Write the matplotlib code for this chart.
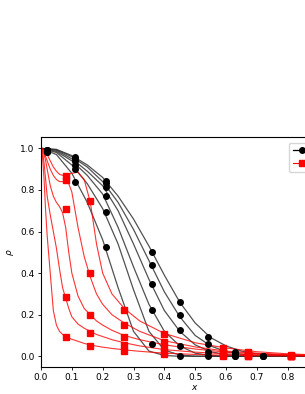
import numpy as np
import matplotlib
matplotlib.use("Agg")
import matplotlib.pyplot as plt

nan = np.nan

# ---- model curves ----
xb = [0, 0.05, 0.1, 0.15, 0.2, 0.25, 0.3, 0.35, 0.4, 0.45, 0.5, 0.55, 0.6, 0.65, 0.7, 0.8, 0.9, 1.0]
black_curves = [
    [1.0, 0.995, 0.965, 0.92, 0.86, 0.77, 0.66, 0.53, 0.39, 0.26, 0.16, 0.09, 0.05, 0.025, 0.012, 0.003, 0.001, 0.0],
    [1.0, 0.993, 0.96, 0.91, 0.84, 0.74, 0.61, 0.46, 0.31, 0.19, 0.10, 0.05, 0.022, 0.01, 0.004, 0.001, 0.0, 0.0],
    [1.0, 0.99, 0.95, 0.89, 0.82, 0.70, 0.54, 0.37, 0.22, 0.12, 0.055, 0.022, 0.008, 0.003, 0.001, 0.0, 0.0, 0.0],
    [1.0, 0.985, 0.94, 0.87, 0.78, 0.62, 0.43, 0.25, 0.12, 0.05, 0.015, 0.004, 0.001, 0.0, 0.0, 0.0, 0.0, 0.0],
    [1.0, 0.98, 0.92, 0.83, 0.71, 0.54, 0.32, 0.12, 0.03, 0.006, 0.001, 0.0, 0.0, 0.0, 0.0, 0.0, 0.0, 0.0],
    [1.0, 0.97, 0.88, 0.74, 0.56, 0.33, 0.12, 0.025, 0.004, 0.0, 0.0, 0.0, 0.0, 0.0, 0.0, 0.0, 0.0, 0.0],
]

xr = [0, 0.005, 0.01, 0.015, 0.02, 0.03, 0.04, 0.05, 0.06, 0.07, 0.08, 0.09, 0.10, 0.12, 0.14,
      0.16, 0.18, 0.20, 0.23, 0.27, 0.32, 0.40, 0.50, 0.60, 0.70, 0.80, 0.90, 1.0]
red_curves = [
    [1.0, 0.96, 0.85, 0.70, 0.58, 0.40, 0.22, 0.15, 0.12, 0.105, 0.095, 0.088, 0.082, 0.072, 0.062,
     0.055, 0.049, 0.044, 0.038, 0.031, 0.024, 0.015, 0.009, 0.005, 0.003, 0.002, 0.001, 0.0],
    [1.0, 0.98, 0.93, 0.85, 0.77, 0.68, 0.60, 0.52, 0.42, 0.33, 0.28, 0.23, 0.19, 0.155, 0.135,
     0.12, 0.105, 0.095, 0.08, 0.065, 0.05, 0.032, 0.02, 0.012, 0.007, 0.004, 0.002, 0.001],
    [1.0, 0.99, 0.97, 0.94, 0.90, 0.82, 0.77, 0.74, 0.72, 0.69, 0.62, 0.50, 0.40, 0.29, 0.23,
     0.20, 0.17, 0.15, 0.125, 0.10, 0.08, 0.055, 0.035, 0.02, 0.012, 0.007, 0.004, 0.002],
    [1.0, 0.995, 0.98, 0.96, 0.94, 0.90, 0.87, 0.85, 0.84, 0.84, 0.84, 0.83, 0.79, 0.62, 0.48,
     0.38, 0.30, 0.25, 0.20, 0.16, 0.12, 0.075, 0.045, 0.025, 0.015, 0.008, 0.004, 0.002],
    [1.0, 0.998, 0.99, 0.98, 0.97, 0.94, 0.91, 0.89, 0.875, 0.87, 0.87, 0.875, 0.88, 0.885, 0.85,
     0.74, 0.54, 0.40, 0.30, 0.23, 0.17, 0.11, 0.065, 0.04, 0.022, 0.012, 0.006, 0.003],
]

# ---- measured points ----
xbm = [0.02, 0.11, 0.21, 0.36, 0.45, 0.54, 0.63, 0.72]
black_pts = [
    [0.99, 0.96, 0.845, 0.50, 0.262, 0.091, 0.02, 0.0],
    [0.99, 0.95, 0.832, 0.437, 0.199, 0.058, 0.01, 0.0],
    [0.99, 0.94, 0.815, 0.348, 0.126, 0.022, 0.0, 0.0],
    [0.985, 0.92, 0.772, 0.221, 0.051, 0.001, 0.0, nan],
    [0.98, 0.90, 0.694, 0.06, 0.001, nan, nan, nan],
    [0.98, 0.837, 0.524, nan, nan, nan, nan, nan],
]
xrm = [0.08, 0.16, 0.27, 0.40, 0.59, 0.67, 0.81]
red_pts = [
    [0.091, 0.0495, 0.027, 0.01, 0.0, 0.0, 0.0],
    [0.284, 0.113, 0.054, 0.022, 0.005, 0.003, 0.0],
    [0.708, 0.20, 0.094, 0.045, 0.014, 0.008, 0.0],
    [0.846, 0.399, 0.152, 0.07, 0.022, 0.015, 0.002],
    [0.865, 0.747, 0.223, 0.107, 0.038, 0.022, 0.005],
]

fs = 6.5
plt.rcParams['font.size'] = fs
W, H = 305, 394
fig = plt.figure(figsize=(W / 100, H / 100), dpi=100)
ax = fig.add_axes([41 / W, (H - 366.7) / H, 308.4 / W, (366.7 - 137.3) / H])

for yc in black_curves:
    ax.plot(xb, yc, color='#333333', lw=0.9, alpha=0.85, zorder=2)
for yc in red_curves:
    ax.plot(xr, yc, color='red', lw=0.8, alpha=0.8, zorder=2)
for yp in black_pts:
    ax.plot(xbm, yp, 'o', color='black', ms=4, zorder=3)
for yp in red_pts:
    ax.plot(xrm, yp, 's', color='red', ms=4, zorder=3)

h1, = ax.plot([], [], '-o', color='black', ms=4, lw=0.9)
h2, = ax.plot([], [], '-s', color='red', ms=4, lw=0.8)
fig.legend([h1, h2], ['model', 'data'], loc='upper left',
           bbox_to_anchor=(289 / W, (H - 142.5) / H), borderaxespad=0, fontsize=fs,
           handlelength=2.0, framealpha=0.8)

ax.set_xlim(0, 1.0)
ax.set_ylim(-0.05, 1.053)
ax.set_xticks([0, 0.1, 0.2, 0.3, 0.4, 0.5, 0.6, 0.7, 0.8])
ax.set_yticks([0, 0.2, 0.4, 0.6, 0.8, 1.0])
ax.tick_params(length=2.5, width=0.6, labelsize=fs, pad=2)
for s in ax.spines.values():
    s.set_linewidth(0.8)
ax.set_xlabel(r'$x$', fontsize=fs, labelpad=1)
ax.set_ylabel(r'$\rho$', fontsize=fs, labelpad=3)

fig.savefig('out.png', dpi=100)
